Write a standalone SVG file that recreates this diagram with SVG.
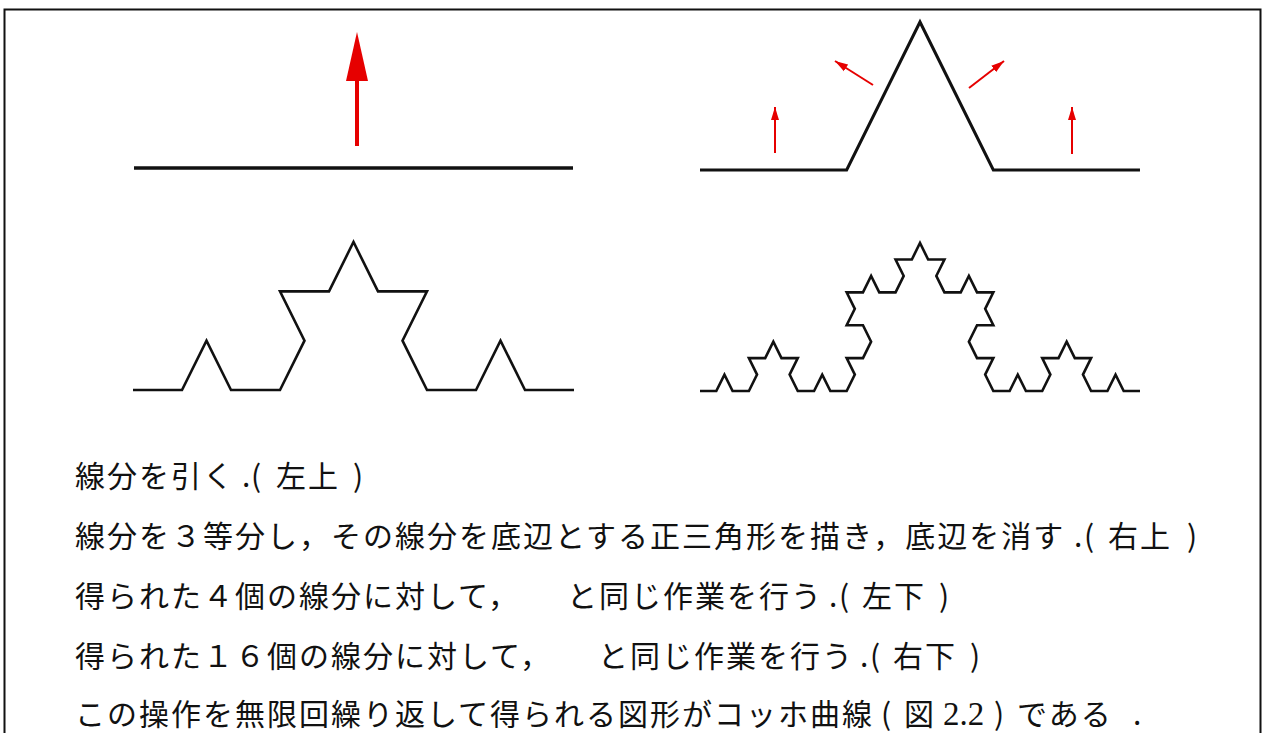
<svg xmlns="http://www.w3.org/2000/svg" width="1263" height="733" viewBox="0 0 1263 733">
<defs>
<style>
.ln{fill:none;stroke:#111;stroke-linejoin:miter;stroke-linecap:butt;vector-effect:non-scaling-stroke}
.ar{fill:none;stroke:#e60000;stroke-width:2}
.t{font-family:"Noto Sans CJK JP","Noto Sans",sans-serif;font-size:30px;letter-spacing:2px;fill:#111}
.s{font-family:"Liberation Serif",serif;font-size:33px;letter-spacing:0}
</style>
<marker id="ah" markerUnits="userSpaceOnUse" markerWidth="14" markerHeight="9" refX="13" refY="4.5" orient="auto">
<path d="M0,0.5 L13,4.5 L0,8.5 z" fill="#e60000"/>
</marker>
</defs>
<rect width="1263" height="733" fill="#fff"/>
<path id="frame" d="M4.5,740 V9.5 H1260.5 V740" fill="none" stroke="#111" stroke-width="2"/>

<g id="fig-top-left">
<path class="ln" d="M134,168 H573" style="stroke-width:3.5"/>
<line x1="357" y1="146" x2="357" y2="78" stroke="#e60000" stroke-width="4"/>
<polygon points="357,32 368,81 346,81" fill="#e60000"/>
</g>

<g id="fig-top-right">
<path class="ln" transform="translate(700,170) scale(73.33,148)" style="stroke-width:3" d="M0,0 l2 0 1 -1 1 1 2 0"/>
</g>

<g id="connectors">
<line class="ar" x1="775" y1="153" x2="775" y2="107" marker-end="url(#ah)"/>
<line class="ar" x1="1072" y1="154" x2="1072" y2="107" marker-end="url(#ah)"/>
<line class="ar" x1="873" y1="85" x2="835" y2="61" marker-end="url(#ah)"/>
<line class="ar" x1="969" y1="88" x2="1004" y2="61" marker-end="url(#ah)"/>
</g>

<g id="fig-bottom-left">
<path class="ln" transform="translate(133,390) scale(24.5,49.33)" style="stroke-width:2.6" d="M0,0 l2 0 1 -1 1 1 2 0 1 -1 -1 -1 2 0 1 -1 1 1 2 0 -1 1 1 1 2 0 1 -1 1 1 2 0"/>
</g>

<g id="fig-bottom-right">
<path class="ln" transform="translate(700,391) scale(8.148,16.44)" style="stroke-width:2.6" d="M0,0 l2 0 1 -1 1 1 2 0 1 -1 -1 -1 2 0 1 -1 1 1 2 0 -1 1 1 1 2 0 1 -1 1 1 2 0 1 -1 -1 -1 2 0 1 -1 -1 -1 -2 0 1 -1 -1 -1 2 0 1 -1 1 1 2 0 1 -1 -1 -1 2 0 1 -1 1 1 2 0 -1 1 1 1 2 0 1 -1 1 1 2 0 -1 1 1 1 -2 0 -1 1 1 1 2 0 -1 1 1 1 2 0 1 -1 1 1 2 0 1 -1 -1 -1 2 0 1 -1 1 1 2 0 -1 1 1 1 2 0 1 -1 1 1 2 0"/>
</g>

<g id="caption">
<text class="t" y="487"><tspan x="75">線分を引く</tspan><tspan x="242">.</tspan><tspan x="251">(</tspan><tspan x="276">左上</tspan><tspan x="353">)</tspan></text>
<text class="t" y="547"><tspan x="75">線分を３等分し，その線分を底辺とする正三角形を描き，底辺を消す</tspan><tspan x="1074">.</tspan><tspan x="1084">(</tspan><tspan x="1108">右上</tspan><tspan x="1187">)</tspan></text>
<text class="t" y="607"><tspan x="75">得られた４個の線分に対して，</tspan><tspan x="567">と同じ作業を行う</tspan><tspan x="829">.</tspan><tspan x="839">(</tspan><tspan x="862">左下</tspan><tspan x="939">)</tspan></text>
<text class="t" y="667"><tspan x="75">得られた１６個の線分に対して，</tspan><tspan x="598">と同じ作業を行う</tspan><tspan x="860">.</tspan><tspan x="870">(</tspan><tspan x="893">右下</tspan><tspan x="970">)</tspan></text>
<text class="t" y="725"><tspan x="75">この操作を無限回繰り返して得られる図形がコッホ曲線</tspan><tspan x="881">(</tspan><tspan x="904">図</tspan><tspan class="s" x="943">2.2</tspan><tspan x="994">)</tspan><tspan x="1017">である</tspan><tspan x="1133">.</tspan></text>
</g>
</svg>
